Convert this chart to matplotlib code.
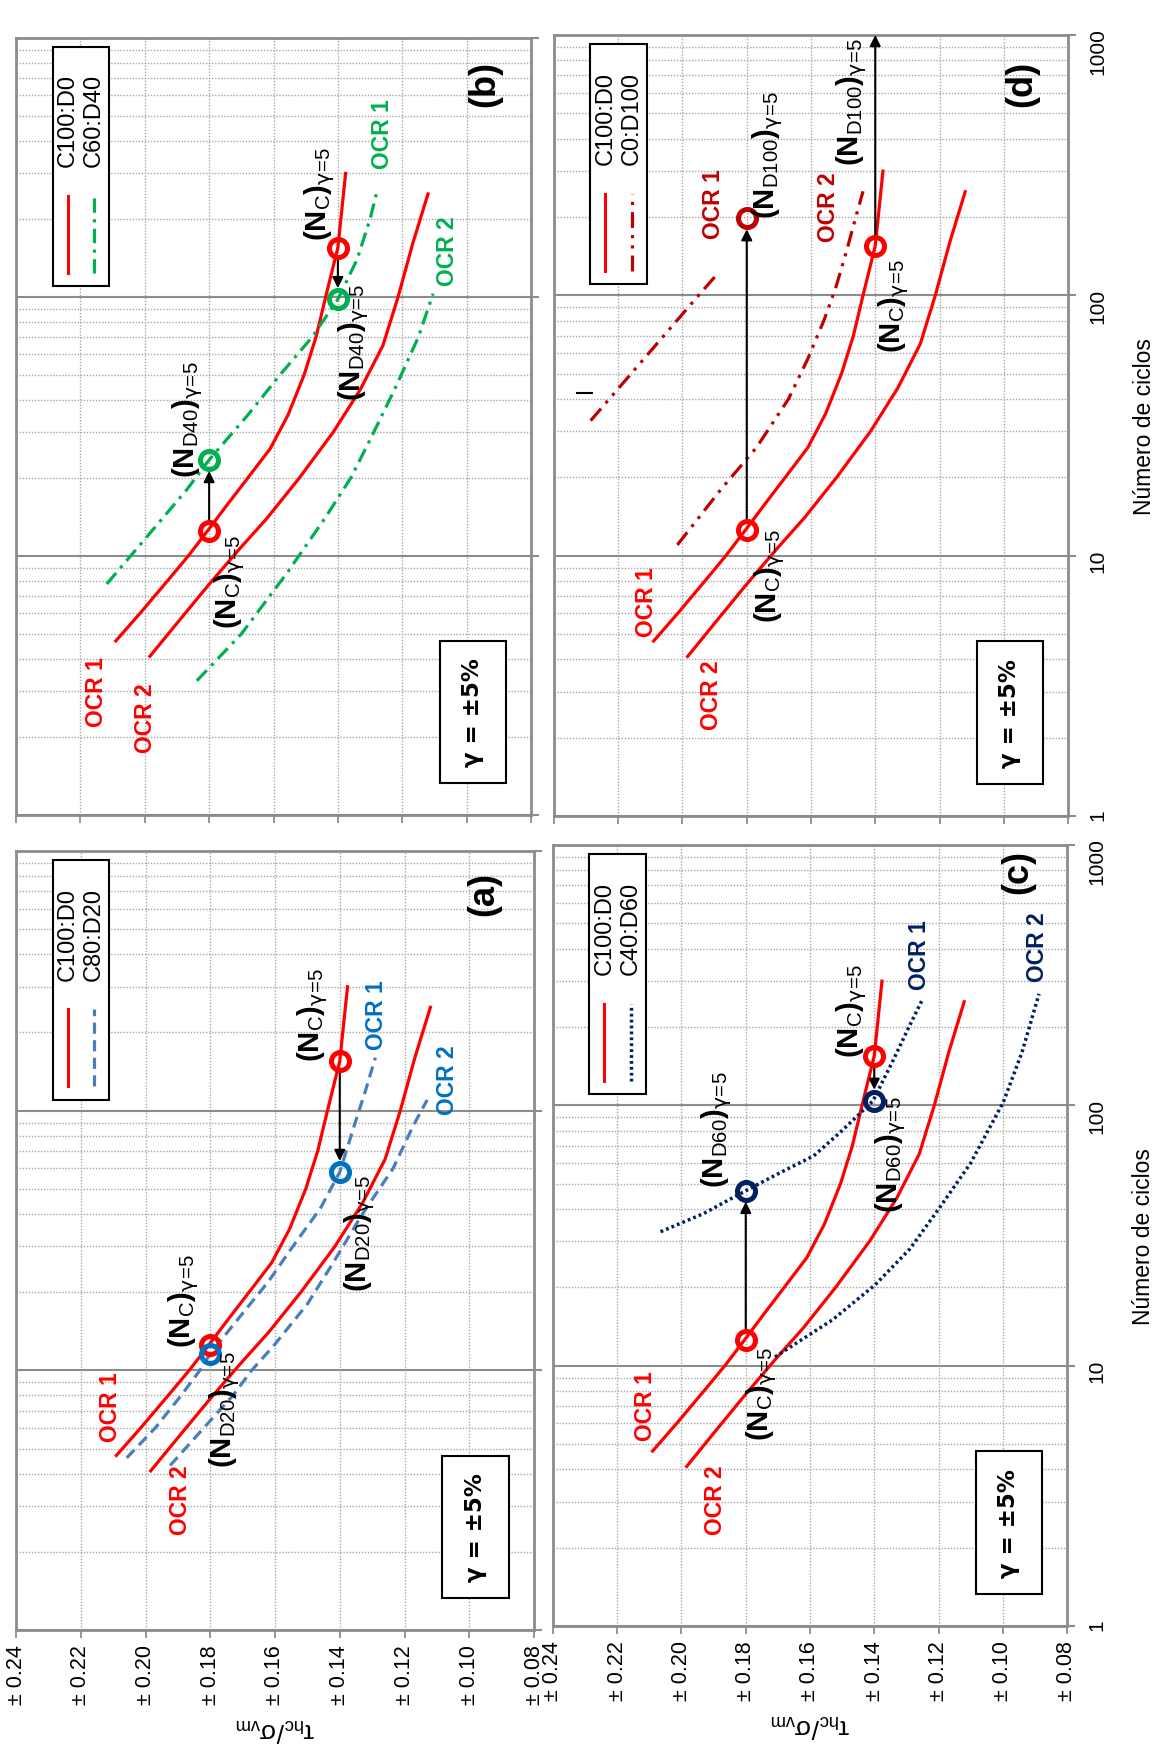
import matplotlib
matplotlib.use('Agg')
import matplotlib.pyplot as plt
from matplotlib.patches import Rectangle
from matplotlib.lines import Line2D
from matplotlib.ticker import FixedLocator, LogLocator, NullFormatter

plt.rcParams['font.family'] = ['Liberation Sans', 'DejaVu Sans']
plt.rcParams['mathtext.fontset'] = 'custom'
plt.rcParams['mathtext.rm'] = 'Liberation Sans'
plt.rcParams['mathtext.it'] = 'Liberation Sans:italic'
plt.rcParams['mathtext.bf'] = 'Liberation Sans:bold'
plt.rcParams['mathtext.sf'] = 'DejaVu Sans'

# ---- axes ticks ----
tau_ticks = [0.24, 0.22, 0.20, 0.18, 0.16, 0.14, 0.12, 0.10, 0.08]
tau_labels = ['± 0.24', '± 0.22', '± 0.20', '± 0.18', '± 0.16', '± 0.14', '± 0.12', '± 0.10', '± 0.08']
n_ticks = [1, 10, 100, 1000]
n_labels = ['1', '10', '100', '1000']

# ---- C100:D0 curves (same in every panel) ----
c100_ocr1_n = [4.7, 6, 8, 10, 12.5, 16, 20, 26, 35, 50, 70, 100, 155, 300]
c100_ocr1_tau = [0.209, 0.2015, 0.193, 0.1865, 0.1805, 0.174, 0.168, 0.161, 0.1555, 0.1505, 0.1468, 0.1438, 0.140, 0.1376]
c100_ocr2_n = [4.1, 5.5, 7.75, 10.5, 14, 20, 30, 44, 65, 100, 160, 250]
c100_ocr2_tau = [0.1984, 0.190, 0.1801, 0.171, 0.162, 0.152, 0.1415, 0.133, 0.126, 0.1213, 0.1168, 0.112]

# ---- C80:D20 ----
d20_ocr1_n = [4.6, 6, 8, 10, 11.6, 16, 22, 30, 42, 58, 87, 120, 160]
d20_ocr1_tau = [0.2058, 0.197, 0.189, 0.1832, 0.180, 0.171, 0.162, 0.1545, 0.146, 0.140, 0.1356, 0.132, 0.129]
d20_ocr2_n = [4.3, 6, 8, 10, 12.4, 18, 26, 40, 60, 87, 110]
d20_ocr2_tau = [0.1924, 0.182, 0.173, 0.1672, 0.1605, 0.150, 0.142, 0.133, 0.1235, 0.1174, 0.113]

# ---- C60:D40 ----
d40_ocr1_n = [7.8, 12, 18, 23.5, 35, 50, 70, 98, 140, 200, 260]
d40_ocr1_tau = [0.2118, 0.199, 0.187, 0.180, 0.168, 0.158, 0.148, 0.140, 0.134, 0.130, 0.1277]
d40_ocr2_n = [3.3, 5, 8.6, 14, 20, 28.6, 45, 70, 103]
d40_ocr2_tau = [0.1838, 0.170, 0.1558, 0.144, 0.136, 0.1297, 0.122, 0.115, 0.1104]

# ---- C40:D60 ----
d60_ocr1_n = [32.7, 38.4, 47, 54.7, 64, 80, 104, 150, 200, 255]
d60_ocr1_tau = [0.2065, 0.1931, 0.180, 0.1698, 0.1588, 0.150, 0.1404, 0.134, 0.1292, 0.125]
d60_ocr2_n = [10.8, 15, 20.4, 28, 40.2, 60, 103, 160, 268]
d60_ocr2_tau = [0.1709, 0.153, 0.1398, 0.129, 0.1198, 0.110, 0.0998, 0.094, 0.0887]

# ---- C0:D100 ----
d100_ocr1_n = [33, 50, 75, 100, 121]
d100_ocr1_tau = [0.2286, 0.216, 0.2037, 0.195, 0.1891]
d100_ocr2_n = [11, 18, 26, 40, 57, 80, 106, 147, 201, 251]
d100_ocr2_tau = [0.2016, 0.188, 0.177, 0.167, 0.161, 0.156, 0.1524, 0.149, 0.146, 0.1438]

# ---- cycles to gamma = 5% at the two stress levels ----
levels = [0.18, 0.14]
nc_c100 = [12.5, 155]
nd_d20 = [11.6, 58]
nd_d40 = [23.5, 98]
nd_d60 = [47, 104]
nd_d100 = [198, 1000]   # second one runs off the chart

stray_tau = [0.233, 0.228]
stray_n = [42, 42]

RED = '#ff0000'
GRID = '#a6a6a6'
FRAME = '#8c8c8c'

W, H = 1160, 1765
fig = plt.figure(figsize=(11.6, 17.65), dpi=100)


def add_panel(x0, y0, x1, y1):
    return fig.add_axes([x0 / W, 1 - y1 / H, (x1 - x0) / W, (y1 - y0) / H])


ax_b = add_panel(16, 39, 531, 816)
ax_a = add_panel(16, 852, 534, 1631)
ax_d = add_panel(554, 36, 1068, 817)
ax_c = add_panel(553, 846, 1067, 1627)


def setup(ax, tau_lab, n_lab):
    ax.set_yscale('log')
    ax.set_xlim(0.24, 0.08)
    ax.set_ylim(1, 1000)
    ax.set_xticks(tau_ticks)
    ax.set_xticklabels(tau_labels if tau_lab else [''] * len(tau_ticks))
    ax.yaxis.tick_right()
    ax.yaxis.set_major_locator(FixedLocator(n_ticks))
    ax.yaxis.set_minor_locator(LogLocator(base=10, subs=range(2, 10)))
    ax.yaxis.set_minor_formatter(NullFormatter())
    ax.set_yticklabels(n_labels if n_lab else [''] * len(n_ticks))
    ax.tick_params(axis='x', direction='out', length=6, width=1.3, color=FRAME,
                   labelsize=15.5, labelrotation=90, pad=4)
    ax.tick_params(axis='y', which='major', direction='out', length=6, width=1.5,
                   color=FRAME, labelsize=15, labelrotation=90, pad=9)
    ax.tick_params(axis='y', which='minor', length=0)
    ax.grid(axis='x', which='major', ls=(0, (1, 1.2)), color=GRID, lw=1.0)
    ax.grid(axis='y', which='minor', ls=(0, (1, 1.2)), color=GRID, lw=1.0)
    ax.grid(axis='y', which='major', ls='-', color=FRAME, lw=1.5)
    ax.set_axisbelow(True)
    for sp in ax.spines.values():
        sp.set_color(FRAME)
        sp.set_linewidth(2)
    if tau_lab:
        ax.set_xlabel(r'$\mathrm{τ}_{\mathrm{hc}}/\mathrm{σ}_{\mathrm{vm}}$', rotation=180,
                      fontsize=19, labelpad=8)
    if n_lab:
        ax.yaxis.set_label_position('right')
        ax.set_ylabel('Número de ciclos', rotation=90, fontsize=16.5, labelpad=18)


def legend(ax, label2, style2):
    ax.add_patch(Rectangle((0.071, 0.681), 0.109, 0.307, transform=ax.transAxes,
                           fc='white', ec='black', lw=1.5, zorder=5))
    ax.add_line(Line2D([0.100, 0.100], [0.698, 0.797], transform=ax.transAxes,
                       color=RED, lw=2.2, zorder=6))
    ax.add_line(Line2D([0.151, 0.151], [0.698, 0.797], transform=ax.transAxes,
                       zorder=6, **style2))
    ax.text(0.100, 0.835, 'C100:D0', rotation=90, ha='center', va='bottom',
            transform=ax.transAxes, fontsize=17, zorder=6)
    ax.text(0.151, 0.835, label2, rotation=90, ha='center', va='bottom',
            transform=ax.transAxes, fontsize=17, zorder=6)


def gamma_box(ax):
    ax.add_patch(Rectangle((0.823, 0.041), 0.128, 0.183, transform=ax.transAxes,
                           fc='white', ec='black', lw=1.5, zorder=5))
    ax.text(0.887, 0.1325, 'γ = ±5%', rotation=90, ha='center', va='center',
            transform=ax.transAxes, fontsize=16.5, fontweight='bold',
            family=['DejaVu Sans'], zorder=6)


def letter(ax, s, x, y):
    ax.text(x, y, s, rotation=90, ha='center', va='center', transform=ax.transAxes,
            fontsize=26, fontweight='bold')


def lab(ax, tau, n, s, color='black', size=16.5):
    ax.text(tau, n, s, rotation=90, ha='center', va='center', fontsize=size,
            color=color, fontweight='bold', zorder=7)


def nlab(ax, tau, n, sub):
    s = (r'$\mathbf{(N}_{\mathrm{' + sub + r'}}\mathbf{)}_{\mathsf{γ}\mathrm{\!=\!5}}$')
    ax.text(tau, n, s, rotation=90, ha='center', va='center', fontsize=21, zorder=7)


def circles(ax, n_vals, color):
    ax.plot(levels, n_vals, 'o', ms=13, mfc='none', mec=color, mew=3.6, zorder=5)


def arrow(ax, tau, n0, n1, shrink_end=8):
    ax.annotate('', xy=(tau, n1), xytext=(tau, n0), annotation_clip=False,
                arrowprops=dict(arrowstyle='-|>', mutation_scale=16, color='black',
                                lw=1.5, shrinkA=8, shrinkB=shrink_end), zorder=4)


def c100(ax):
    ax.plot(c100_ocr1_tau, c100_ocr1_n, color=RED, lw=2.3, zorder=3)
    ax.plot(c100_ocr2_tau, c100_ocr2_n, color=RED, lw=2.3, zorder=3)


for ax, tl, nl in [(ax_b, False, False), (ax_a, True, False), (ax_d, False, True), (ax_c, True, True)]:
    setup(ax, tl, nl)

# ---------------- panel (a) ----------------
ax = ax_a
blue = dict(color='#4a7ebb', lw=2.3, ls=(0, (3.5, 2)))
c100(ax)
ax.plot(d20_ocr1_tau, d20_ocr1_n, zorder=3, **blue)
ax.plot(d20_ocr2_tau, d20_ocr2_n, zorder=3, **blue)
circles(ax, nc_c100, RED)
circles(ax, nd_d20, '#0070c0')
arrow(ax, levels[1], nc_c100[1], nd_d20[1])
lab(ax, 0.2108, 7.3, 'OCR 1', RED)
lab(ax, 0.1893, 3.19, 'OCR 2', RED)
lab(ax, 0.1285, 235, 'OCR 1', '#0070c0')
lab(ax, 0.1066, 132, 'OCR 2', '#0070c0')
nlab(ax, 0.1881, 18.7, 'C')
nlab(ax, 0.1754, 7.1, 'D20')
nlab(ax, 0.1483, 235, 'C')
nlab(ax, 0.1337, 34, 'D20')
legend(ax, 'C80:D20', blue)
gamma_box(ax)
letter(ax, '(a)', 0.9035, 0.946)

# ---------------- panel (b) ----------------
ax = ax_b
green = dict(color='#00b050', lw=2.3, ls=(0, (4.5, 2, 1, 2)))
c100(ax)
ax.plot(d40_ocr1_tau, d40_ocr1_n, zorder=3, **green)
ax.plot(d40_ocr2_tau, d40_ocr2_n, zorder=3, **green)
circles(ax, nc_c100, RED)
circles(ax, nd_d40, '#00b050')
arrow(ax, levels[0], nc_c100[0], nd_d40[0])
arrow(ax, levels[1], nc_c100[1], nd_d40[1])
lab(ax, 0.2149, 3.0, 'OCR 1', RED)
lab(ax, 0.1999, 2.39, 'OCR 2', RED)
lab(ax, 0.126, 430, 'OCR 1', '#00b050')
lab(ax, 0.1058, 151, 'OCR 2', '#00b050')
nlab(ax, 0.1735, 8.0, 'C')
nlab(ax, 0.1866, 34, 'D40')
nlab(ax, 0.1458, 252, 'C')
nlab(ax, 0.135, 67, 'D40')
legend(ax, 'C60:D40', green)
gamma_box(ax)
letter(ax, '(b)', 0.9107, 0.942)

# ---------------- panel (c) ----------------
ax = ax_c
navy = dict(color='#002060', lw=2.5, ls=(0, (0.8, 0.9)))
c100(ax)
ax.plot(d60_ocr1_tau, d60_ocr1_n, zorder=3, **navy)
ax.plot(d60_ocr2_tau, d60_ocr2_n, zorder=3, **navy)
circles(ax, nc_c100, RED)
circles(ax, nd_d60, '#002060')
arrow(ax, levels[0], nc_c100[0], nd_d60[0])
arrow(ax, levels[1], nc_c100[1], nd_d60[1])
lab(ax, 0.2111, 7.08, 'OCR 1', RED)
lab(ax, 0.1893, 3.08, 'OCR 2', RED)
lab(ax, 0.1258, 381, 'OCR 1', '#002060')
lab(ax, 0.0893, 409, 'OCR 2', '#002060')
nlab(ax, 0.1749, 7.87, 'C')
nlab(ax, 0.189, 81.6, 'D60')
nlab(ax, 0.1469, 232, 'C')
nlab(ax, 0.1348, 65, 'D60')
legend(ax, 'C40:D60', navy)
gamma_box(ax)
letter(ax, '(c)', 0.9047, 0.967)

# ---------------- panel (d) ----------------
ax = ax_d
dred = dict(color='#c00000', lw=2.3, ls=(0, (5, 2.2, 1, 2.2, 1, 2.2)))
c100(ax)
ax.plot(d100_ocr1_tau, d100_ocr1_n, zorder=3, **dred)
ax.plot(d100_ocr2_tau, d100_ocr2_n, zorder=3, **dred)
circles(ax, nc_c100, RED)
ax.plot(levels[:1], nd_d100[:1], 'o', ms=13, mfc='none', mec='#c00000', mew=3.6, zorder=5)
arrow(ax, levels[0], nc_c100[0], nd_d100[0])
arrow(ax, levels[1], nc_c100[1], nd_d100[1], shrink_end=0)
ax.plot(stray_tau, stray_n, color='black', lw=1.5, solid_capstyle='butt')
lab(ax, 0.2111, 6.7, 'OCR 1', RED)
lab(ax, 0.1911, 2.94, 'OCR 2', RED)
lab(ax, 0.1905, 226, 'OCR 1', '#c00000')
lab(ax, 0.1547, 220, 'OCR 2', '#c00000')
nlab(ax, 0.1728, 8.4, 'C')
nlab(ax, 0.1342, 92, 'C')
nlab(ax, 0.1734, 349, 'D100')
nlab(ax, 0.1472, 557, 'D100')
legend(ax, 'C0:D100', dred)
gamma_box(ax)
letter(ax, '(d)', 0.9105, 0.9386)

fig.savefig('out.png', dpi=100)
